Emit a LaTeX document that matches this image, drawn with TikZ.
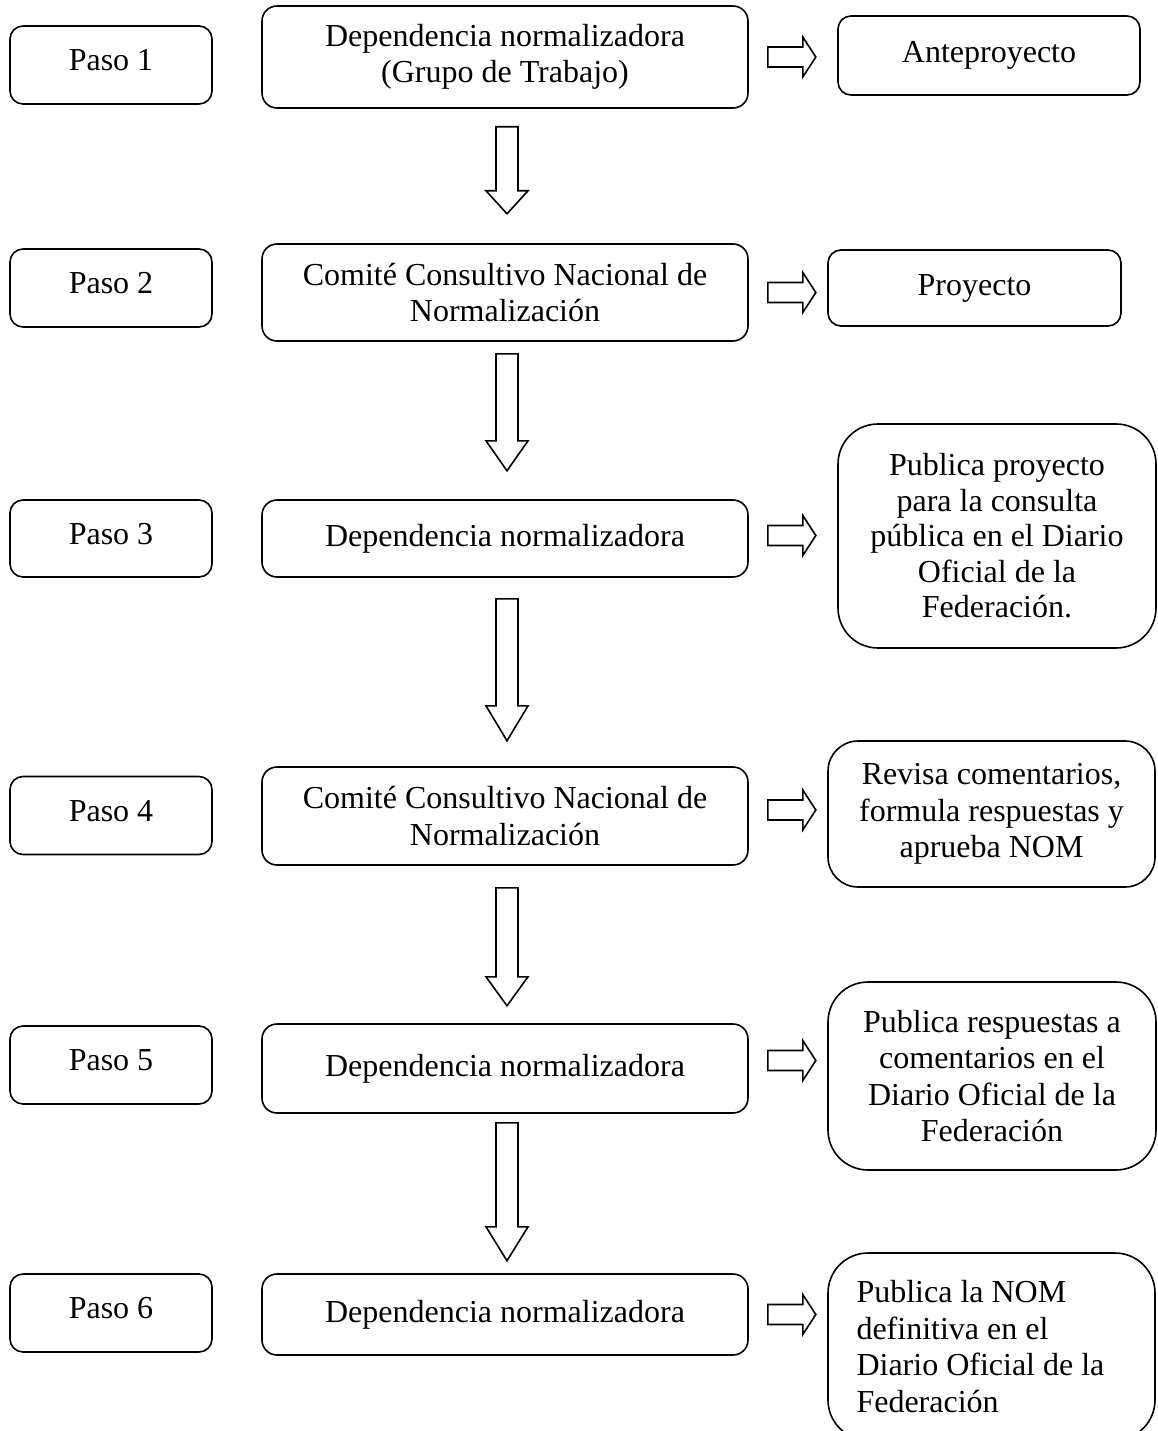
\documentclass[tikz,border=0pt]{standalone}
\usepackage{fontspec}
\setmainfont{Liberation Serif}
\tikzset{
  base/.style={draw, line width=1.6pt, inner sep=0pt, align=center,
    font=\fontsize{32}{36.5}\selectfont},
  pasobox/.style={base, rounded corners=13pt, minimum width=202pt, minimum height=78pt, text depth=10pt},
  midbox/.style={base, rounded corners=15pt, minimum width=486pt},
  sidebox/.style={base, rounded corners=#1},
  blk/.style={draw, line width=1.6pt, line join=miter}
}
\newcommand{\dnarrow}[4]{\draw[blk, shift={(#1.south)}] (-9,#2) -- (13,#2) -- (13,#3) -- (23,#3) -- (2,#4) -- (-19,#3) -- (-9,#3) -- cycle;}
\newcommand{\rtarrow}[2]{\draw[blk, shift={(#1.east)}] (19,#2-10) -- (54,#2-10) -- (54,#2-20) -- (67,#2) -- (54,#2+20) -- (54,#2+10) -- (19,#2+10) -- cycle;}
\begin{document}
\begin{tikzpicture}[x=1pt, y=-1pt]
\useasboundingbox (0,0) rectangle (1157,1431);
% Paso boxes
\node[pasobox] (p1) at (111,65) {Paso 1};
\node[pasobox] (p2) at (111,288) {Paso 2};
\node[pasobox, minimum height=77pt] (p3) at (111,538.5) {Paso 3};
\node[pasobox] (p4) at (111,815.5) {Paso 4};
\node[pasobox] (p5) at (111,1065) {Paso 5};
\node[pasobox] (p6) at (111,1313) {Paso 6};
% middle boxes
\node[midbox, minimum height=102pt] (m1) at (505,57) {Dependencia normalizadora\\(Grupo de Trabajo)};
\node[midbox, minimum height=97pt] (m2) at (505,292.5) {Comité Consultivo Nacional de\\Normalización};
\node[midbox, minimum height=77pt] (m3) at (505,538.5) {Dependencia normalizadora};
\node[midbox, minimum height=98pt] (m4) at (505,816) {Comité Consultivo Nacional de\\Normalización};
\node[midbox, minimum height=89pt] (m5) at (505,1068.5) {Dependencia normalizadora};
\node[midbox, minimum height=81pt] (m6) at (505,1314.5) {Dependencia normalizadora};
% side boxes
\node[sidebox=13pt, minimum width=302pt, minimum height=79pt] (r1) at (989,55.5) {Anteproyecto};
\node[sidebox=13pt, minimum width=293pt, minimum height=76pt] (r2) at (974.5,288) {Proyecto};
\node[sidebox=40pt, minimum width=318pt, minimum height=224pt, font=\fontsize{32}{35.5}\selectfont] (r3) at (997,536) {Publica proyecto\\para la consulta\\pública en el Diario\\Oficial de la\\Federación.};
\node[sidebox=30pt, minimum width=327pt, minimum height=146pt] (r4) at (991.5,814) {Revisa comentarios,\\formula respuestas y\\aprueba NOM};
\node[sidebox=40pt, minimum width=328pt, minimum height=188pt] (r5) at (992,1076) {Publica respuestas a\\comentarios en el\\Diario Oficial de la\\Federación};
\node[sidebox=40pt, minimum width=327pt, minimum height=187pt, text width=270pt, align=flush left] (r6) at (991.5,1346.5) {Publica la NOM\\definitiva en el\\Diario Oficial de la\\Federación};
% down arrows
\dnarrow{m1}{18}{82}{105}
\dnarrow{m2}{12}{99}{129}
\dnarrow{m3}{21}{128}{163}
\dnarrow{m4}{22}{111}{140}
\dnarrow{m5}{9}{113}{147}
% right arrows
\rtarrow{m1}{0}
\rtarrow{m2}{0}
\rtarrow{m3}{-3}
\rtarrow{m4}{-6}
\rtarrow{m5}{-8}
\rtarrow{m6}{0}
\end{tikzpicture}
\end{document}
